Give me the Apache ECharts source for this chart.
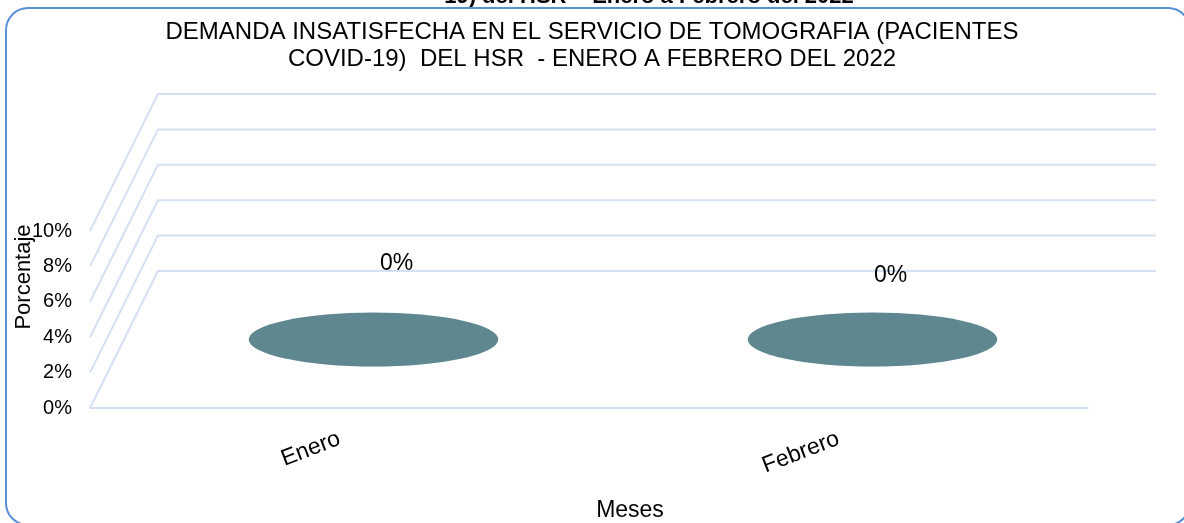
<!DOCTYPE html>
<html>
<head>
<meta charset="utf-8">
<title>Demanda insatisfecha - Tomografía</title>
<script src="https://cdn.jsdelivr.net/npm/echarts@6/dist/echarts.min.js"></script>
<style>
  html, body { margin: 0; padding: 0; background: #ffffff; overflow: hidden; }
  #chart { width: 1184px; height: 523px; }
</style>
</head>
<body>
<div id="chart"></div>
<script>
// Meses y porcentaje de demanda insatisfecha (pacientes COVID-19)
const categories = ['Enero', 'Febrero'];
const demandaInsatisfecha = [0, 0];
const yTicks = [0, 0.02, 0.04, 0.06, 0.08, 0.10];
const yTickLabels = ['0%', '2%', '4%', '6%', '8%', '10%'];

// Perspectiva del "piso" y de la pared del fondo
const DEPTH_DX = 68;
const DEPTH_DY = -137;
const ELLIPSE_RY = 27;
const LABEL_NUDGE = [[23, -76], [18, -64]];

const FONT = '"Liberation Sans", Arial, sans-serif';
const GRID_COLOR = '#d5e0f2';
const BAR_COLOR = '#5f8790';

const pct = v => Math.round(v * 100) + '%';

const chart = echarts.init(document.getElementById('chart'), null, { renderer: 'canvas' });

// Líneas de la pared lateral y del fondo, una por marca del eje Y
function renderFrame(params, api) {
  const cs = params.coordSys;
  const v = api.value(1);
  const y = api.coord([0, v])[1];
  const L = cs.x, R = cs.x + cs.width;
  return {
    type: 'polyline',
    silent: true,
    shape: { points: [[L, y], [L + DEPTH_DX, y + DEPTH_DY], [R + DEPTH_DX, y + DEPTH_DY]] },
    style: { stroke: GRID_COLOR, lineWidth: 2, fill: null }
  };
}

// Cilindro situado a media profundidad; con valor 0 solo queda la base
function renderCylinder(params, api) {
  const i = api.value(0);
  const v = api.value(1);
  const base = api.coord([i, 0]);
  const top = api.coord([i, v]);
  const band = api.size([1, 0])[0];
  const rx = band * 0.25;
  const cx = base[0] + DEPTH_DX / 2;
  const cyB = base[1] + DEPTH_DY / 2;
  const cyT = top[1] + DEPTH_DY / 2;
  const children = [];
  const ellipse = (cy, fill) => ({
    type: 'circle',
    shape: { cx: 0, cy: 0, r: rx },
    x: cx, y: cy, scaleY: ELLIPSE_RY / rx,
    style: { fill: fill }
  });
  if (cyB - cyT > 0.5) {
    children.push(ellipse(cyB, BAR_COLOR));
    children.push({
      type: 'rect',
      shape: { x: cx - rx, y: cyT, width: rx * 2, height: cyB - cyT },
      style: { fill: BAR_COLOR }
    });
  }
  children.push(ellipse(cyT, BAR_COLOR));
  const nudge = LABEL_NUDGE[i] || [20, -70];
  children.push({
    type: 'text',
    x: cx + nudge[0], y: cyT + nudge[1],
    style: {
      text: pct(v), fill: '#000', font: '23px ' + FONT,
      align: 'center', verticalAlign: 'middle'
    }
  });
  return { type: 'group', children: children };
}

const option = {
  animation: false,
  backgroundColor: '#ffffff',
  title: {
    text: 'DEMANDA INSATISFECHA EN EL SERVICIO DE TOMOGRAFIA (PACIENTES\nCOVID-19)  DEL HSR  - ENERO A FEBRERO DEL 2022',
    left: 'center',
    top: 14,
    padding: [5, 5, 5, 23],
    textStyle: { fontFamily: FONT, fontSize: 24, fontWeight: 'normal', color: '#000', lineHeight: 27 }
  },
  grid: {
    left: 90, right: 96, top: 231, bottom: 115,
    containLabel: false,
    outerBoundsMode: 'none'
  },
  xAxis: {
    type: 'category',
    data: categories,
    axisLine: { show: true, lineStyle: { color: GRID_COLOR, width: 2 } },
    axisTick: { show: false },
    splitLine: { show: false },
    axisLabel: { rotate: 21, margin: 30, fontSize: 23, color: '#000', fontFamily: FONT },
    name: 'Meses',
    nameLocation: 'middle',
    nameGap: 91,
    nameTextStyle: { fontSize: 23, color: '#000', fontFamily: FONT, padding: [0, 0, 0, 82] }
  },
  yAxis: {
    type: 'value',
    min: 0,
    max: 0.1,
    interval: 0.02,
    axisLine: { show: false },
    axisTick: { show: false },
    splitLine: { show: false },
    axisLabel: {
      margin: 18, fontSize: 20, color: '#000', fontFamily: FONT,
      formatter: v => {
        const k = yTicks.findIndex(t => Math.abs(t - v) < 1e-9);
        return k >= 0 ? yTickLabels[k] : '';
      }
    }
  },
  graphic: [
    {
      type: 'rect',
      silent: true,
      shape: { x: 6, y: 8, width: 1184, height: 517, r: 22 },
      style: { fill: null, stroke: '#5b91d6', lineWidth: 2 },
      z: 100
    },
    {
      type: 'text',
      x: 649, y: 8,
      style: {
        text: '19) del HSR  - Enero a Febrero del 2022',
        font: 'bold 22px ' + FONT, fill: '#000',
        align: 'center', verticalAlign: 'bottom'
      },
      z: 90
    },
    {
      type: 'text',
      x: 24, y: 277,
      rotation: Math.PI / 2,
      style: {
        text: 'Porcentaje', font: '22px ' + FONT, fill: '#000',
        align: 'center', verticalAlign: 'middle'
      }
    }
  ],
  series: [
    {
      type: 'custom',
      name: 'marco',
      silent: true,
      z: 1,
      renderItem: renderFrame,
      encode: { x: 0, y: 1 },
      data: yTicks.map(v => [0, v])
    },
    {
      type: 'custom',
      name: 'Demanda insatisfecha',
      z: 5,
      renderItem: renderCylinder,
      encode: { x: 0, y: 1 },
      data: demandaInsatisfecha.map((v, i) => [i, v])
    }
  ]
};

chart.setOption(option);
</script>
</body>
</html>
